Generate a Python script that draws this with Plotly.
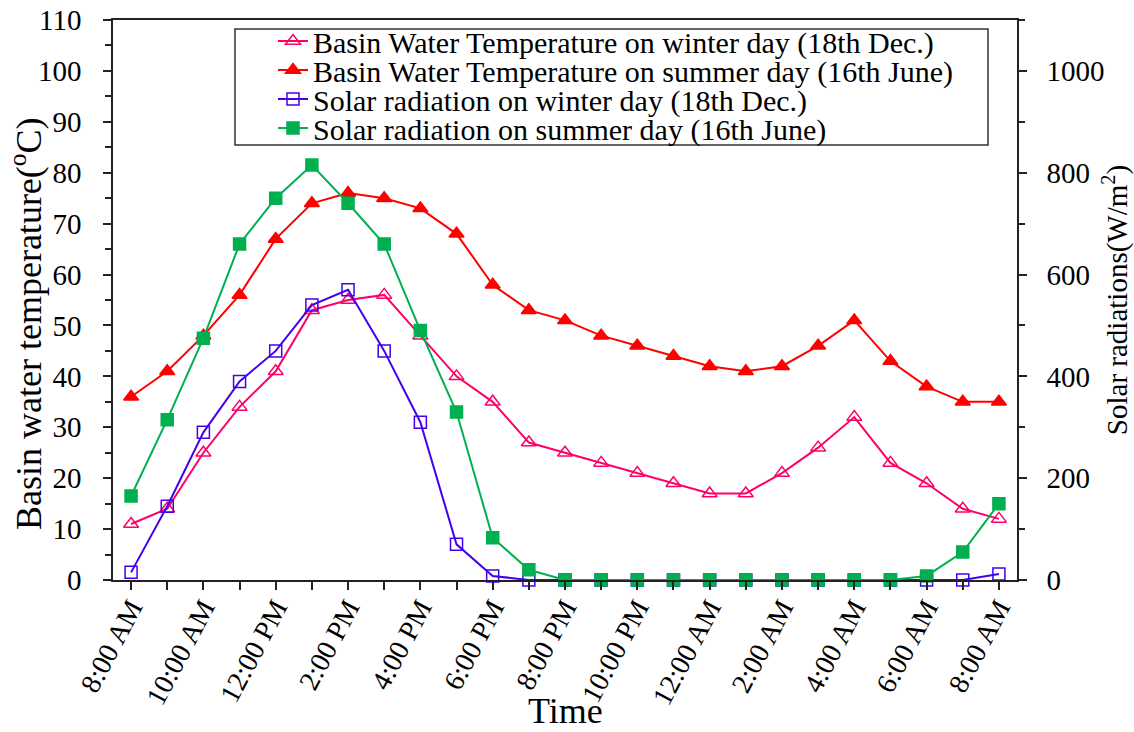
import plotly.graph_objects as go

# Hourly readings from 8:00 AM to 8:00 AM the next day
hours = list(range(25))
tick_positions = list(range(0, 25, 2))
tick_labels = ["8:00 AM", "10:00 AM", "12:00 PM", "2:00 PM", "4:00 PM", "6:00 PM",
               "8:00 PM", "10:00 PM", "12:00 AM", "2:00 AM", "4:00 AM", "6:00 AM", "8:00 AM"]

# Basin water temperature (°C)
temp_winter = [11, 14, 25, 34, 41, 53, 55, 56, 48, 40, 35, 27, 25, 23, 21, 19, 17, 17, 21, 26, 32, 23, 19, 14, 12]
temp_summer = [36, 41, 48, 56, 67, 74, 76, 75, 73, 68, 58, 53, 51, 48, 46, 44, 42, 41, 42, 46, 51, 43, 38, 35, 35]

# Solar radiation (W/m²)
rad_winter = [15, 145, 290, 390, 450, 540, 570, 450, 310, 70, 8, 0, 0, 0, 0, 0, 0, 0, 0, 0, 0, 0, 0, 0, 12]
rad_summer = [165, 315, 475, 660, 750, 815, 740, 660, 490, 330, 83, 20, 0, 0, 0, 0, 0, 0, 0, 0, 0, 0, 8, 55, 150]

FONT = "Liberation Serif, Times New Roman, serif"
W, H = 1134, 732
L, R, T, B = 113, 117, 20, 152
plot_w, plot_h = W - L - R, H - T - B


def px_x(px):
    return (px - L) / plot_w


def px_y(py):
    return (H - B - py) / plot_h


series = [
    dict(name="Basin Water Temperature on winter day (18th Dec.)", y=temp_winter, axis="y",
         color="#FF0066", symbol="triangle-up-open", size=13, legend="legend", row_y=41),
    dict(name="Basin Water Temperature on summer day (16th June)", y=temp_summer, axis="y",
         color="#FF0000", symbol="triangle-up", size=13, legend="legend2", row_y=70),
    dict(name="Solar radiation on winter day (18th Dec.)", y=rad_winter, axis="y2",
         color="#4400EE", symbol="square-open", size=12, legend="legend3", row_y=99),
    dict(name="Solar radiation on summer day (16th June)", y=rad_summer, axis="y2",
         color="#00B050", symbol="square", size=12, legend="legend4", row_y=128),
]

fig = go.Figure()
for s in series:
    fig.add_trace(go.Scatter(
        x=hours, y=s["y"], yaxis=s["axis"], name=s["name"], legend=s["legend"],
        mode="lines+markers",
        line=dict(color=s["color"], width=2),
        marker=dict(symbol=s["symbol"], size=s["size"], color=s["color"],
                    line=dict(color=s["color"], width=1.5)),
        cliponaxis=False,
    ))

legend_common = dict(
    xanchor="left", yanchor="middle", bgcolor="rgba(0,0,0,0)", borderwidth=0,
    font=dict(family=FONT, size=30, color="black"), itemwidth=30,
)
legends = {}
for s in series:
    legends[s["legend"]] = dict(legend_common, x=px_x(273), y=px_y(s["row_y"]))

axis_font = dict(family=FONT, size=29, color="black")
tick_style = dict(ticks="outside", ticklen=8, tickwidth=1.5, tickcolor="#222")

fig.update_layout(
    width=W, height=H,
    margin=dict(l=L, r=R, t=T, b=B, autoexpand=False),
    paper_bgcolor="white", plot_bgcolor="white",
    font=dict(family=FONT, color="black"),
    showlegend=True,
    xaxis=dict(
        range=[-0.5, 24.5], tickvals=tick_positions, ticktext=tick_labels,
        tickangle=-62, tickfont=dict(family=FONT, size=28, color="black"), automargin=False,
        ticklabelstandoff=-10,
        minor=dict(dtick=1, tick0=0, **tick_style),
        showline=True, linecolor="#222", linewidth=2, mirror=True,
        showgrid=False, zeroline=False,
        **tick_style,
    ),
    yaxis=dict(
        range=[0, 110], dtick=10, tick0=0, tickfont=axis_font, automargin=False,
        ticklabelstandoff=16,
        minor=dict(dtick=5, tick0=0, ticks="outside", ticklen=6, tickwidth=1.5, tickcolor="#222"),
        showline=True, linecolor="#222", linewidth=1.5,
        showgrid=False, zeroline=False,
        **tick_style,
    ),
    yaxis2=dict(
        overlaying="y", side="right", range=[0, 1100], automargin=False,
        tickvals=[0, 200, 400, 600, 800, 1000], tickfont=axis_font,
        ticklabelstandoff=14,
        minor=dict(dtick=100, tick0=0, ticks="outside", ticklen=6, tickwidth=1.5, tickcolor="#222"),
        showline=True, linecolor="#222", linewidth=1.5,
        showgrid=False, zeroline=False,
        title=dict(text="Solar radiations(W/m<sup>2</sup>)",
                   font=dict(family=FONT, size=29, color="black"), standoff=6),
        **tick_style,
    ),
    annotations=[
        dict(text="Basin water temperature(<sup>o</sup>C)", textangle=-90,
             xref="paper", yref="paper", x=px_x(26), y=px_y(324),
             xanchor="center", yanchor="middle", showarrow=False,
             font=dict(family=FONT, size=36, color="black")),
        dict(text="Time", xref="paper", yref="paper", x=px_x(565), y=px_y(732),
             xanchor="center", yanchor="bottom", showarrow=False, borderpad=0,
             font=dict(family=FONT, size=36, color="black")),
    ],
    shapes=[dict(type="rect", xref="paper", yref="paper",
                 x0=px_x(235), x1=px_x(988), y0=px_y(145), y1=px_y(29),
                 line=dict(color="#333", width=1.5), fillcolor="rgba(0,0,0,0)", layer="below")],
    **legends,
)

fig.write_html("out.html")
